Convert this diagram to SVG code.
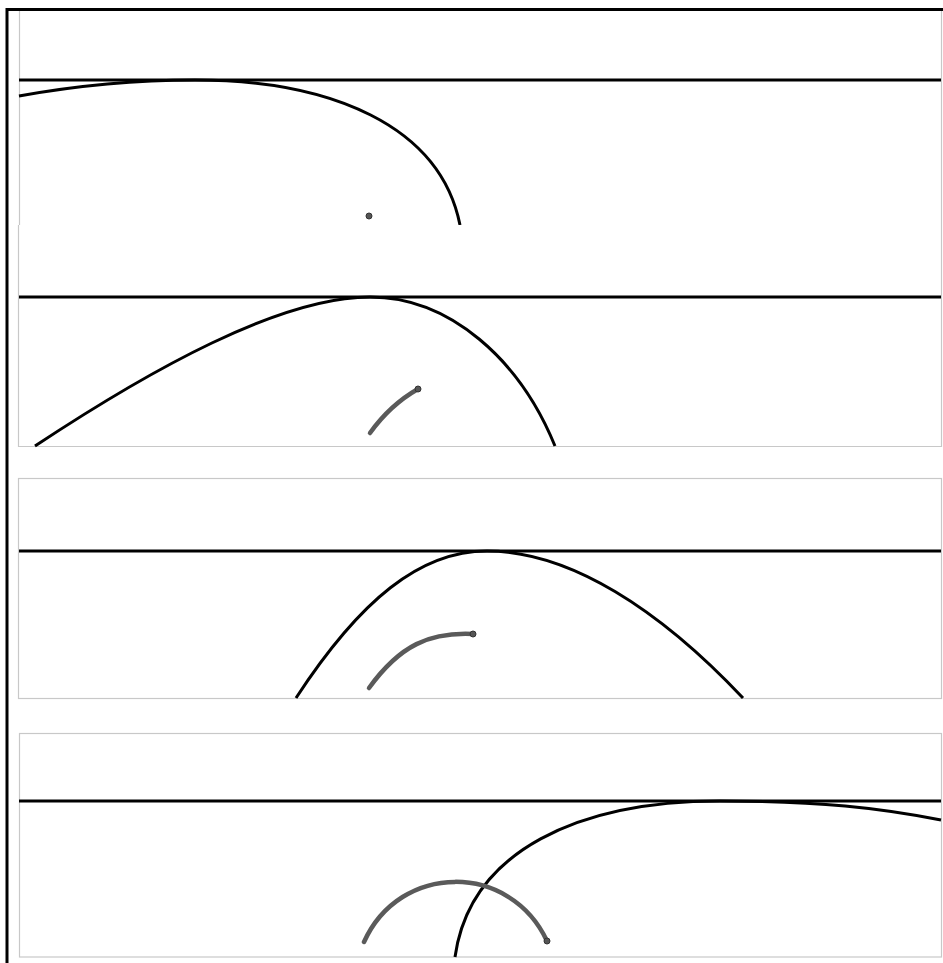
<svg xmlns="http://www.w3.org/2000/svg" width="943" height="963" viewBox="0 0 943 963">
<style>
.frame{fill:none;stroke:#000;stroke-width:3}
.panel{fill:#fff;stroke:#c8c8c8;stroke-width:1.2}
.ground{stroke:#000;stroke-width:3;fill:none}
.curve{fill:none;stroke:#000;stroke-width:3}
.trace{fill:none;stroke:#5a5a5a;stroke-width:4.5;stroke-linecap:round}
.dot{fill:#555;stroke:#333;stroke-width:1}
</style>
<rect width="943" height="963" fill="#fff"/>
<g id="panel1">
<path class="panel" d="M19.5,10 V225 M941.5,10 V225"/>
<line class="ground" x1="19" y1="80" x2="941" y2="80"/>
<path class="curve" d="M19,96 C80,85 140,80 195,80 C330,80 440,125 460,225"/>
<circle class="dot" cx="369" cy="216" r="3"/>
</g>
<g id="panel2">
<path class="panel" d="M18.5,225 V446.5 H941.5 V225"/>
<line class="ground" x1="19" y1="297" x2="941" y2="297"/>
<path class="curve" d="M35,446 C150,370 280,297 370,297 C450,297 520,360 555,446"/>
<path class="trace" d="M370,433 Q390,405 418,389"/>
<circle class="dot" cx="418" cy="389" r="3"/>
</g>
<g id="panel3">
<rect class="panel" x="18.5" y="478.5" width="923" height="220"/>
<line class="ground" x1="19" y1="551" x2="941" y2="551"/>
<path class="curve" d="M296,698 C360,600 420,551 487,551 C570,551 660,610 743,698"/>
<path class="trace" d="M369,688 C400,645 430,632 473,634"/>
<circle class="dot" cx="473" cy="634" r="3"/>
</g>
<g id="panel4">
<rect class="panel" x="19.5" y="733.5" width="922" height="223.5"/>
<line class="ground" x1="19" y1="801" x2="941" y2="801"/>
<path class="curve" d="M455,957 C470,850 580,801 720,801 C820,801 880,808 941,820"/>
<path class="trace" d="M364,942 C400,862 510,862 547,941"/>
<circle class="dot" cx="547" cy="941" r="3"/>
</g>
<path class="frame" d="M7,963 V9.5 H943"/>
</svg>
